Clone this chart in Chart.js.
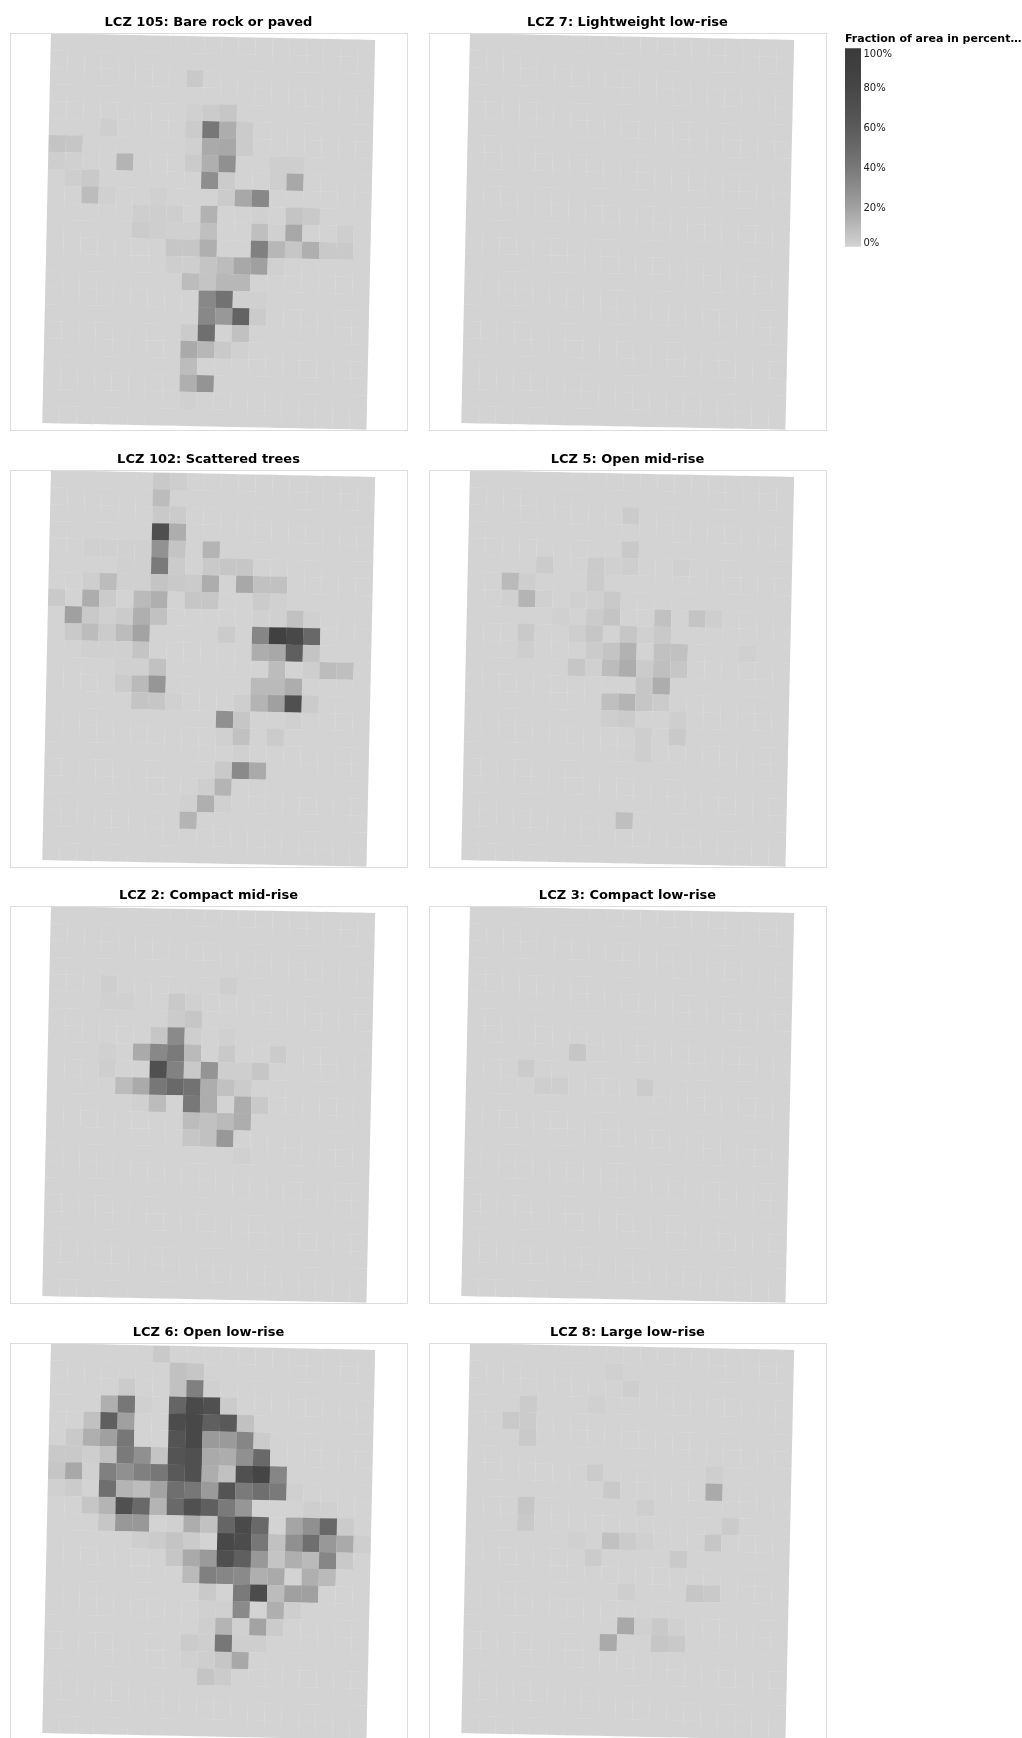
<!DOCTYPE html>
<html lang="en">
<head>
  <meta charset="UTF-8" />
  <title>Local climate zones</title>
  <script src="https://cdn.jsdelivr.net/npm/chart.js"></script>
  <style>
    html, body {
      margin: 0;
      padding: 0;
      background: #fff;
      width: 1022px;
      height: 1738px;
      overflow: hidden;
    }
    #page {
      position: relative;
      width: 1022px;
      height: 1738px;
      overflow: hidden;
    }
    canvas {
      position: absolute;
    }
  </style>
</head>
<body>
  <div id="page"></div>

  <script>
    // percent of each grid cell, 23 rows of 19 cells
    const lcz105 = [
      [0,0,0,0,0,0,0,0,0,0,0,0,0,0,0,0,0,0,0],
      [0,0,0,0,0,0,0,0,0,0,0,0,0,0,0,0,0,0,0],
      [0,0,0,0,0,0,0,0,4,0,0,0,0,0,0,0,0,0,0],
      [0,0,0,0,0,0,0,0,0,0,0,0,0,0,0,0,0,0,0],
      [0,0,0,0,0,0,0,0,1,3,5,0,0,0,0,0,0,0,0],
      [0,0,0,2,0,0,0,0,3,41,15,3,0,0,0,0,0,0,0],
      [6,5,0,0,0,0,0,0,1,16,17,3,0,0,0,0,0,0,0],
      [2,1,0,0,12,0,0,0,3,14,28,0,0,2,2,0,0,0,0],
      [0,2,4,0,0,0,0,0,0,29,3,0,0,2,17,0,0,0,0],
      [0,0,9,1,0,0,1,0,0,0,3,17,32,0,0,0,0,0,0],
      [0,0,0,0,0,2,2,2,0,13,0,0,1,0,6,4,0,0,0],
      [0,0,0,0,0,3,2,1,1,8,0,0,8,1,17,0,0,2,0],
      [0,0,0,0,0,0,0,5,5,14,0,0,36,11,5,14,4,4,0],
      [0,0,0,0,0,0,0,2,2,6,9,17,20,1,0,0,0,0,0],
      [0,0,0,0,0,0,0,0,9,6,11,11,0,0,0,0,0,0,0],
      [0,0,0,0,0,0,0,0,0,32,44,1,1,0,0,0,0,0,0],
      [0,0,0,0,0,0,0,0,0,32,24,54,3,0,0,0,0,0,0],
      [0,0,0,0,0,0,0,0,3,46,0,7,0,0,0,0,0,0,0],
      [0,0,0,0,0,0,0,0,16,11,4,1,0,0,0,0,0,0,0],
      [0,0,0,0,0,0,0,0,9,0,0,0,0,0,0,0,0,0,0],
      [0,0,0,0,0,0,0,0,14,26,0,0,0,0,0,0,0,0,0],
      [0,0,0,0,0,0,0,0,1,0,0,0,0,0,0,0,0,0,0],
      [0,0,0,0,0,0,0,0,0,0,0,0,0,0,0,0,0,0,0]
    ];
    const lcz7 = [
      [0,0,0,0,0,0,0,0,0,0,0,0,0,0,0,0,0,0,0],
      [0,0,0,0,0,0,0,0,0,0,0,0,0,0,0,0,0,0,0],
      [0,0,0,0,0,0,0,0,0,0,0,0,0,0,0,0,0,0,0],
      [0,0,0,0,0,0,0,0,0,0,0,0,0,0,0,0,0,0,0],
      [0,0,0,0,0,0,0,0,0,0,0,0,0,0,0,0,0,0,0],
      [0,0,0,0,0,0,0,0,0,0,0,0,0,0,0,0,0,0,0],
      [0,0,0,0,0,0,0,0,0,0,0,0,0,0,0,0,0,0,0],
      [0,0,0,0,0,0,0,0,0,0,0,0,0,0,0,0,0,0,0],
      [0,0,0,0,0,0,0,0,0,0,0,0,0,0,0,0,0,0,0],
      [0,0,0,0,0,0,0,0,0,0,0,0,0,0,0,0,0,0,0],
      [0,0,0,0,0,0,0,0,0,0,0,0,0,0,0,0,0,0,0],
      [0,0,0,0,0,0,0,0,0,0,0,0,0,0,0,0,0,0,0],
      [0,0,0,0,0,0,0,0,0,0,0,0,0,0,0,0,0,0,0],
      [0,0,0,0,0,0,0,0,0,0,0,0,0,0,0,0,0,0,0],
      [0,0,0,0,0,0,0,0,0,0,0,0,0,0,0,0,0,0,0],
      [0,0,0,0,0,0,0,0,0,0,0,0,0,0,0,0,0,0,0],
      [0,0,0,0,0,0,0,0,0,0,0,0,0,0,0,0,0,0,0],
      [0,0,0,0,0,0,0,0,0,0,0,0,0,0,0,0,0,0,0],
      [0,0,0,0,0,0,0,0,0,0,0,0,0,0,0,0,0,0,0],
      [0,0,0,0,0,0,0,0,0,0,0,0,0,0,0,0,0,0,0],
      [0,0,0,0,0,0,0,0,0,0,0,0,0,0,0,0,0,0,0],
      [0,0,0,0,0,0,0,0,0,0,0,0,0,0,0,0,0,0,0],
      [0,0,0,0,0,0,0,0,0,0,0,0,0,0,0,0,0,0,0]
    ];
    const lcz102 = [
      [0,0,0,0,0,0,4,2,0,0,0,0,0,0,0,0,0,0,0],
      [0,0,0,0,0,0,9,0,0,0,0,0,0,0,0,0,0,0,0],
      [0,0,0,0,0,0,4,3,0,0,0,0,0,0,0,0,0,0,0],
      [0,0,0,0,0,0,71,15,0,0,0,0,0,0,0,0,0,0,0],
      [0,0,1,1,1,1,27,6,0,12,0,0,0,0,0,0,0,0,0],
      [0,0,0,0,1,1,39,3,0,4,5,5,0,0,0,0,0,0,0],
      [0,0,2,9,1,1,6,4,3,15,0,17,7,7,0,0,0,0,0],
      [4,0,15,3,0,10,14,0,5,5,0,0,3,1,0,0,0,0,0],
      [0,20,4,1,3,14,7,0,0,0,0,0,1,1,7,1,0,0,0],
      [0,4,9,3,9,19,0,0,0,0,3,0,33,88,78,51,0,0,0],
      [0,0,1,1,1,6,0,0,0,0,0,0,15,17,57,6,0,0,0],
      [0,0,0,0,1,1,7,0,0,0,0,0,0,9,0,2,9,8,0],
      [0,0,0,0,3,10,25,0,0,0,0,0,10,10,15,0,0,0,0],
      [0,0,0,0,0,6,5,1,0,0,0,2,12,20,70,3,0,0,0],
      [0,0,0,0,0,0,0,0,0,0,28,5,0,0,1,0,0,0,0],
      [0,0,0,0,0,0,0,0,0,0,1,7,0,3,0,0,0,0,0],
      [0,0,0,0,0,0,0,0,0,0,0,1,0,0,0,0,0,0,0],
      [0,0,0,0,0,0,0,0,0,0,4,31,16,0,0,0,0,0,0],
      [0,0,0,0,0,0,0,0,0,2,12,0,0,0,0,0,0,0,0],
      [0,0,0,0,0,0,0,0,1,14,1,0,0,0,0,0,0,0,0],
      [0,0,0,0,0,0,0,0,12,0,0,0,0,0,0,0,0,0,0],
      [0,0,0,0,0,0,0,0,0,0,0,0,0,0,0,0,0,0,0],
      [0,0,0,0,0,0,0,0,0,0,0,0,0,0,0,0,0,0,0]
    ];
    const lcz5 = [
      [0,0,0,0,0,0,0,0,0,0,0,0,0,0,0,0,0,0,0],
      [0,0,0,0,0,0,0,0,0,0,0,0,0,0,0,0,0,0,0],
      [0,0,0,0,0,0,0,0,0,3,0,0,0,0,0,0,0,0,0],
      [0,0,0,0,0,0,0,0,0,0,0,0,0,0,0,0,0,0,0],
      [0,0,0,0,0,0,0,0,0,4,0,0,0,0,0,0,0,0,0],
      [0,0,0,0,3,0,0,3,1,2,0,0,1,0,0,0,0,0,0],
      [0,0,10,2,0,0,0,3,0,0,0,0,0,0,0,0,0,0,0],
      [0,0,1,12,1,0,1,1,4,0,0,0,0,0,0,0,0,0,0],
      [0,0,0,0,0,1,0,3,6,0,0,7,0,6,2,0,0,0,0],
      [0,0,0,4,0,0,2,5,0,5,1,4,0,0,0,0,0,0,0],
      [0,0,0,2,0,0,0,3,6,13,0,7,7,0,0,0,1,0,0],
      [0,0,0,0,0,0,5,1,9,15,3,8,5,0,0,0,0,0,0],
      [0,0,0,0,0,0,0,0,0,0,5,15,0,0,0,0,0,0,0],
      [0,0,0,0,0,0,0,0,8,12,5,3,0,0,0,0,0,0,0],
      [0,0,0,0,0,0,0,0,2,3,0,0,2,0,0,0,0,0,0],
      [0,0,0,0,0,0,0,0,0,0,2,0,4,0,0,0,0,0,0],
      [0,0,0,0,0,0,0,0,0,0,2,0,0,0,0,0,0,0,0],
      [0,0,0,0,0,0,0,0,0,0,0,0,0,0,0,0,0,0,0],
      [0,0,0,0,0,0,0,0,0,0,0,0,0,0,0,0,0,0,0],
      [0,0,0,0,0,0,0,0,0,0,0,0,0,0,0,0,0,0,0],
      [0,0,0,0,0,0,0,0,0,8,0,0,0,0,0,0,0,0,0],
      [0,0,0,0,0,0,0,0,0,0,0,0,0,0,0,0,0,0,0],
      [0,0,0,0,0,0,0,0,0,0,0,0,0,0,0,0,0,0,0]
    ];
    const lcz2 = [
      [0,0,0,0,0,0,0,0,0,0,0,0,0,0,0,0,0,0,0],
      [0,0,0,0,0,0,0,0,0,0,0,0,0,0,0,0,0,0,0],
      [0,0,0,0,0,0,0,0,0,0,0,0,0,0,0,0,0,0,0],
      [0,0,0,0,0,0,0,0,0,0,0,0,0,0,0,0,0,0,0],
      [0,0,0,2,0,0,0,0,0,0,2,0,0,0,0,0,0,0,0],
      [0,0,0,1,1,0,0,4,1,0,0,0,0,0,0,0,0,0,0],
      [0,0,0,0,0,0,0,3,5,0,0,0,0,0,0,0,0,0,0],
      [0,0,0,0,0,0,5,31,2,0,1,0,0,0,0,0,0,0,0],
      [0,0,0,1,0,16,32,39,10,0,4,0,0,3,0,0,0,0,0],
      [0,0,0,2,0,0,70,35,4,26,2,2,5,0,0,0,0,0,0],
      [0,0,0,0,9,16,41,50,44,15,7,3,0,0,0,0,0,0,0],
      [0,0,0,0,0,1,9,0,40,15,0,15,4,0,0,0,0,0,0],
      [0,0,0,0,0,0,0,0,9,7,10,15,0,0,0,0,0,0,0],
      [0,0,0,0,0,0,0,0,5,7,24,0,0,0,0,0,0,0,0],
      [0,0,0,0,0,0,0,0,0,0,0,1,0,0,0,0,0,0,0],
      [0,0,0,0,0,0,0,0,0,0,0,0,0,0,0,0,0,0,0],
      [0,0,0,0,0,0,0,0,0,0,0,0,0,0,0,0,0,0,0],
      [0,0,0,0,0,0,0,0,0,0,0,0,0,0,0,0,0,0,0],
      [0,0,0,0,0,0,0,0,0,0,0,0,0,0,0,0,0,0,0],
      [0,0,0,0,0,0,0,0,0,0,0,0,0,0,0,0,0,0,0],
      [0,0,0,0,0,0,0,0,0,0,0,0,0,0,0,0,0,0,0],
      [0,0,0,0,0,0,0,0,0,0,0,0,0,0,0,0,0,0,0],
      [0,0,0,0,0,0,0,0,0,0,0,0,0,0,0,0,0,0,0]
    ];
    const lcz3 = [
      [0,0,0,0,0,0,0,0,0,0,0,0,0,0,0,0,0,0,0],
      [0,0,0,0,0,0,0,0,0,0,0,0,0,0,0,0,0,0,0],
      [0,0,0,0,0,0,0,0,0,0,0,0,0,0,0,0,0,0,0],
      [0,0,0,0,0,0,0,0,0,0,0,0,0,0,0,0,0,0,0],
      [0,0,0,0,0,0,0,0,0,0,0,0,0,0,0,0,0,0,0],
      [0,0,0,0,0,0,0,0,0,0,0,0,0,0,0,0,0,0,0],
      [0,0,0,0,0,0,0,0,0,0,0,0,0,0,0,0,0,0,0],
      [0,0,0,0,0,0,0,0,0,0,0,0,0,0,0,0,0,0,0],
      [0,0,0,0,0,0,5,0,0,0,0,0,0,0,0,0,0,0,0],
      [0,0,0,3,0,0,0,0,0,0,0,0,0,0,0,0,0,0,0],
      [0,0,0,0,2,2,0,0,0,0,3,0,0,0,0,0,0,0,0],
      [0,0,0,0,0,0,0,0,0,0,0,0,0,0,0,0,0,0,0],
      [0,0,0,0,0,0,0,0,0,0,0,0,0,0,0,0,0,0,0],
      [0,0,0,0,0,0,0,0,0,0,0,0,0,0,0,0,0,0,0],
      [0,0,0,0,0,0,0,0,0,0,0,0,0,0,0,0,0,0,0],
      [0,0,0,0,0,0,0,0,0,0,0,0,0,0,0,0,0,0,0],
      [0,0,0,0,0,0,0,0,0,0,0,0,0,0,0,0,0,0,0],
      [0,0,0,0,0,0,0,0,0,0,0,0,0,0,0,0,0,0,0],
      [0,0,0,0,0,0,0,0,0,0,0,0,0,0,0,0,0,0,0],
      [0,0,0,0,0,0,0,0,0,0,0,0,0,0,0,0,0,0,0],
      [0,0,0,0,0,0,0,0,0,0,0,0,0,0,0,0,0,0,0],
      [0,0,0,0,0,0,0,0,0,0,0,0,0,0,0,0,0,0,0],
      [0,0,0,0,0,0,0,0,0,0,0,0,0,0,0,0,0,0,0]
    ];
    const lcz6 = [
      [0,0,0,0,0,0,4,0,0,0,0,0,0,0,0,0,0,0,0],
      [0,0,0,0,0,0,0,7,5,0,0,0,0,0,0,0,0,0,0],
      [0,0,0,0,3,0,0,7,36,1,0,0,0,0,0,0,0,0,0],
      [0,0,0,14,41,1,0,53,76,70,3,0,0,0,0,0,0,0,0],
      [0,0,7,57,20,0,0,74,78,57,61,7,0,0,0,0,0,0,0],
      [0,4,14,20,41,0,0,66,78,23,23,33,3,0,0,0,0,0,0],
      [4,4,2,7,39,28,6,66,70,16,15,28,50,0,0,0,0,0,0],
      [5,17,1,36,28,36,41,61,70,15,7,70,82,33,0,0,0,0,0],
      [1,3,0,46,12,9,19,46,41,23,66,39,46,39,1,0,0,0,0],
      [0,0,5,12,70,50,12,50,70,57,39,25,0,0,0,2,1,0,0],
      [0,0,0,5,24,24,0,1,15,7,53,76,50,0,18,28,51,3,0],
      [0,0,0,0,0,2,3,6,3,0,78,74,41,7,28,46,24,16,2],
      [0,0,0,0,0,0,0,5,16,23,71,57,24,6,14,10,33,4,0],
      [0,0,0,0,0,0,0,0,10,36,33,31,14,16,0,14,10,0,0],
      [0,0,0,0,0,0,0,0,0,4,0,39,74,9,20,20,0,0,0],
      [0,0,0,0,0,0,0,0,0,1,1,31,0,14,2,0,0,0,0],
      [0,0,0,0,0,0,0,0,0,2,12,1,19,3,0,0,0,0,0],
      [0,0,0,0,0,0,0,0,3,2,41,2,2,0,0,0,0,0,0],
      [0,0,0,0,0,0,0,0,1,2,5,17,0,0,0,0,0,0,0],
      [0,0,0,0,0,0,0,0,0,6,3,0,0,0,0,0,0,0,0],
      [0,0,0,0,0,0,0,0,0,0,0,0,0,0,0,0,0,0,0],
      [0,0,0,0,0,0,0,0,0,0,0,0,0,0,0,0,0,0,0],
      [0,0,0,0,0,0,0,0,0,0,0,0,0,0,0,0,0,0,0]
    ];
    const lcz8 = [
      [0,0,0,0,0,0,0,0,0,0,0,0,0,0,0,0,0,0,0],
      [0,0,0,0,0,0,0,0,1,0,0,0,0,0,0,0,0,0,0],
      [0,0,0,0,0,0,0,0,0,2,0,0,0,0,0,0,0,0,0],
      [0,0,0,3,0,0,0,1,0,0,0,0,0,0,0,0,0,0,0],
      [0,0,4,3,0,0,0,0,0,0,0,0,0,0,0,0,0,0,0],
      [0,0,0,4,0,0,0,0,0,0,0,0,0,0,0,0,0,0,0],
      [0,0,0,0,0,0,0,0,0,0,0,0,0,0,0,0,0,0,0],
      [0,0,0,0,0,0,0,3,0,0,0,0,0,0,2,0,0,0,0],
      [0,0,0,0,0,0,0,0,4,0,0,0,0,0,16,0,0,0,0],
      [0,0,0,5,0,0,0,0,0,0,2,0,0,0,0,0,0,0,0],
      [0,0,0,4,0,0,0,0,0,0,0,0,0,0,0,3,0,0,0],
      [0,0,0,0,0,0,1,0,7,3,1,0,0,0,5,0,0,0,0],
      [0,0,0,0,0,0,0,3,0,0,0,0,4,0,0,0,0,0,0],
      [0,0,0,0,0,0,0,0,0,0,0,0,0,0,0,0,0,0,0],
      [0,0,0,0,0,0,0,0,0,2,0,0,0,5,4,0,0,0,0],
      [0,0,0,0,0,0,0,0,0,0,0,0,0,0,0,0,0,0,0],
      [0,0,0,0,0,0,0,0,0,17,1,4,1,0,0,0,0,0,0],
      [0,0,0,0,0,0,0,0,16,0,0,5,4,0,0,0,0,0,0],
      [0,0,0,0,0,0,0,0,0,0,0,0,0,0,0,0,0,0,0],
      [0,0,0,0,0,0,0,0,0,0,0,0,0,0,0,0,0,0,0],
      [0,0,0,0,0,0,0,0,0,0,0,0,0,0,0,0,0,0,0],
      [0,0,0,0,0,0,0,0,0,0,0,0,0,0,0,0,0,0,0],
      [0,0,0,0,0,0,0,0,0,0,0,0,0,0,0,0,0,0,0]
    ];

    const panelTitles = [
      'LCZ 105: Bare rock or paved', 'LCZ 7: Lightweight low-rise',
      'LCZ 102: Scattered trees', 'LCZ 5: Open mid-rise',
      'LCZ 2: Compact mid-rise', 'LCZ 3: Compact low-rise',
      'LCZ 6: Open low-rise', 'LCZ 8: Large low-rise'
    ];
    const panelCells = [lcz105, lcz7, lcz102, lcz5, lcz2, lcz3, lcz6, lcz8];

    // colour scale, same stops for cells and legend
    const scalePercent = [0, 20, 40, 60, 80, 100];
    const scaleGray = [211, 160, 120, 90, 70, 58];
    const legendTitle = 'Fraction of area in percent…';

    const font = "'DejaVu Sans', sans-serif";
    const colX = [0, 419];
    const rowY = [0, 437, 873, 1310];
    const page = document.getElementById('page');

    function grayFor(pct) {
      let i = 0;
      while (i < scalePercent.length - 2 && pct > scalePercent[i + 1]) i++;
      const t = (pct - scalePercent[i]) / (scalePercent[i + 1] - scalePercent[i]);
      const g = Math.round(scaleGray[i] + t * (scaleGray[i + 1] - scaleGray[i]));
      return `rgb(${g},${g},${g})`;
    }

    function addCanvas(left, top, w, h) {
      const c = document.createElement('canvas');
      c.width = w;
      c.height = h;
      c.style.left = left + 'px';
      c.style.top = top + 'px';
      page.appendChild(c);
      return c;
    }

    const frame = {
      id: 'frame',
      afterDraw(chart) {
        const a = chart.chartArea;
        const ctx = chart.ctx;
        ctx.save();
        ctx.strokeStyle = '#dddddd';
        ctx.lineWidth = 1;
        ctx.strokeRect(a.left + 0.5, a.top + 0.5, a.width, a.height);
        ctx.restore();
      }
    };

    // the map grid sits about 1.2 degrees off north, so cells are sheared a bit
    function cellPoints(rows) {
      const pts = [];
      rows.forEach((row, r) => {
        row.forEach((v, c) => {
          pts.push({
            x: c + 0.5 - 0.0222 * (r + 0.5),
            y: r + 0.5 + 0.0205 * (c + 0.5),
            v: v
          });
        });
      });
      return pts;
    }

    panelCells.forEach((rows, i) => {
      const canvas = addCanvas(colX[i % 2], rowY[Math.floor(i / 2)], 417, 433);
      new Chart(canvas.getContext('2d'), {
        type: 'scatter',
        data: {
          datasets: [{
            data: cellPoints(rows),
            pointStyle: 'rect',
            pointRadius: 12.24,
            pointRotation: 1.2,
            pointBorderWidth: 0,
            pointBackgroundColor: ctx => grayFor(ctx.raw.v)
          }]
        },
        options: {
          responsive: false,
          animation: false,
          events: [],
          layout: { autoPadding: false, padding: { left: 10, right: 10, bottom: 3 } },
          scales: {
            x: { display: false, min: -2.41, max: 20.875 },
            y: { display: false, min: -0.03, max: 23.42, reverse: true }
          },
          plugins: {
            legend: { display: false },
            tooltip: { enabled: false },
            title: {
              display: true,
              text: panelTitles[i],
              color: '#000',
              font: { family: font, size: 13, weight: 'bold' },
              padding: { top: 15, bottom: 2.4 }
            }
          }
        },
        plugins: [frame]
      });
    });

    // legend labels: first and last sit inside the bar ends
    const rampLabels = {
      id: 'rampLabels',
      afterDraw(chart) {
        const y = chart.scales.y;
        const ctx = chart.ctx;
        ctx.save();
        ctx.font = '10px ' + font;
        ctx.fillStyle = '#222';
        ctx.textAlign = 'left';
        y.ticks.forEach(t => {
          ctx.textBaseline = t.value === 100 ? 'top' : (t.value === 0 ? 'bottom' : 'middle');
          const off = t.value === 0 ? 2 : 1;
          ctx.fillText(t.value + '%', chart.chartArea.right + 2.5, y.getPixelForValue(t.value) + off);
        });
        ctx.restore();
      }
    };

    new Chart(addCanvas(838, 28, 184, 222).getContext('2d'), {
      type: 'bar',
      data: {
        labels: ['percent'],
        datasets: [{
          data: [100],
          barPercentage: 1,
          categoryPercentage: 1,
          backgroundColor: ctx => {
            const a = ctx.chart.chartArea;
            if (!a) return '#888';
            const g = ctx.chart.ctx.createLinearGradient(0, a.bottom, 0, a.top);
            scalePercent.forEach(p => g.addColorStop(p / 100, grayFor(p)));
            return g;
          }
        }]
      },
      options: {
        responsive: false,
        animation: false,
        events: [],
        layout: { autoPadding: false, padding: { left: 7, bottom: 3.3 } },
        scales: {
          x: { display: false },
          y: {
            position: 'right',
            min: 0,
            max: 100,
            afterFit(scale) { scale.width = 161; },
            ticks: { display: false, stepSize: 20 },
            grid: { display: false },
            border: { display: false }
          }
        },
        plugins: {
          legend: { display: false },
          tooltip: { enabled: false },
          title: {
            display: true,
            text: legendTitle,
            align: 'start',
            color: '#000',
            font: { family: font, size: 11, weight: 'bold' },
            padding: { top: 5, bottom: 2 }
          }
        }
      },
      plugins: [rampLabels]
    });
  </script>
</body>
</html>
